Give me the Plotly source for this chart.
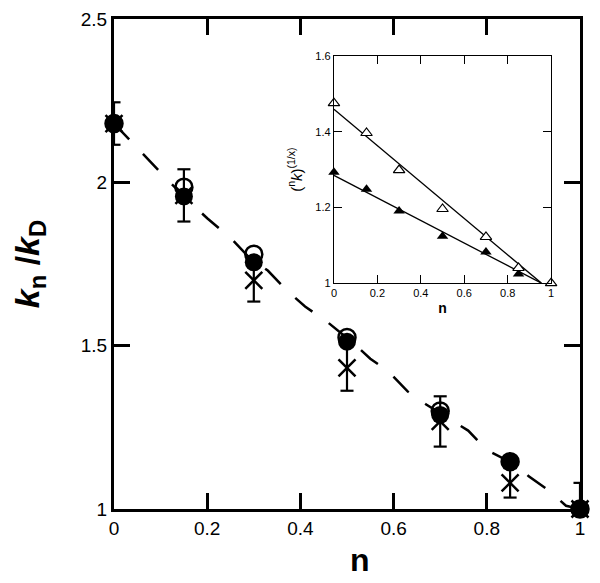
import plotly.graph_objects as go

# ---- main plot data ----
n_vals = [0, 0.15, 0.3, 0.5, 0.7, 0.85, 1.0]
open_circ = [2.18, 1.985, 1.78, 1.525, 1.30, 1.145, 1.0]
filled_circ = [2.18, 1.957, 1.755, 1.512, 1.288, 1.144, 1.0]
cross_vals = [2.18, 1.96, 1.70, 1.432, 1.268, 1.08, 1.0]
cross_err = [0.065, 0.08, 0.065, 0.07, 0.077, 0.045, 0.08]

curve_n = [0, 0.04, 0.08, 0.12, 0.17, 0.2, 0.25, 0.29, 0.33, 0.37, 0.41, 0.46,
           0.52, 0.55, 0.59, 0.63, 0.67, 0.76, 0.8, 0.87, 0.89, 0.93, 0.97, 1.0]
curve_y = [2.18, 2.12, 2.06, 2.0, 1.93, 1.89, 1.83, 1.77, 1.73, 1.67, 1.62, 1.57,
           1.50, 1.46, 1.42, 1.36, 1.32, 1.24, 1.18, 1.13, 1.10, 1.06, 1.01, 1.0]

# ---- inset data ----
inset_n = [0, 0.15, 0.3, 0.5, 0.7, 0.85, 1.0]
open_tri = [1.476, 1.397, 1.299, 1.196, 1.122, 1.04, 1.0]
filled_n = [0, 0.15, 0.3, 0.5, 0.7, 0.85]
filled_tri = [1.293, 1.248, 1.191, 1.124, 1.082, 1.024]
fit_n = [0, 0.955]
fit_open = [1.46, 1.0]
fit_filled = [1.285, 1.0]

FONT = "Liberation Sans, Arial, sans-serif"
CAP = 0.014  # half cap width in n units (style)

# error bars built as clipped line segments from the data arrays
eb_x, eb_y = [], []
for n, v, e in zip(n_vals, cross_vals, cross_err):
    eb_x += [n, n, None, n - CAP, n + CAP, None, n - CAP, n + CAP, None]
    eb_y += [v - e, v + e, None, v + e, v + e, None, v - e, v - e, None]

fig = go.Figure()

fig.add_trace(go.Scatter(x=curve_n, y=curve_y, mode="lines",
                         line=dict(color="black", width=2.5, dash="22px,20px"),
                         showlegend=False, hoverinfo="skip"))

fig.add_trace(go.Scatter(x=eb_x, y=eb_y, mode="lines",
                         line=dict(color="black", width=2.2),
                         showlegend=False, hoverinfo="skip"))

fig.add_trace(go.Scatter(x=n_vals, y=open_circ, mode="markers",
                         marker=dict(symbol="circle-open", size=17, color="black",
                                     line=dict(width=2.5, color="black")),
                         cliponaxis=False, showlegend=False))

fig.add_trace(go.Scatter(x=n_vals, y=filled_circ, mode="markers",
                         marker=dict(symbol="circle", size=18, color="black"),
                         cliponaxis=False, showlegend=False))

fig.add_trace(go.Scatter(x=n_vals, y=cross_vals, mode="markers",
                         marker=dict(symbol="x-thin-open", size=17, color="black",
                                     line=dict(width=2.5, color="black")),
                         cliponaxis=False, showlegend=False))

# inset
fig.add_trace(go.Scatter(x=fit_n, y=fit_open, mode="lines", xaxis="x2", yaxis="y2",
                         line=dict(color="black", width=1.3), showlegend=False))
fig.add_trace(go.Scatter(x=fit_n, y=fit_filled, mode="lines", xaxis="x2", yaxis="y2",
                         line=dict(color="black", width=1.3), showlegend=False))
fig.add_trace(go.Scatter(x=filled_n, y=filled_tri, mode="markers", xaxis="x2", yaxis="y2",
                         marker=dict(symbol="triangle-up", size=10, color="black"),
                         cliponaxis=False, showlegend=False))
fig.add_trace(go.Scatter(x=inset_n, y=open_tri, mode="markers", xaxis="x2", yaxis="y2",
                         marker=dict(symbol="triangle-up", size=10, color="white",
                                     line=dict(width=1.2, color="black")),
                         cliponaxis=False, showlegend=False))

main_axis = dict(showline=True, linewidth=3, linecolor="black", mirror="allticks",
                 ticks="inside", ticklen=16, tickwidth=3, tickcolor="black",
                 showgrid=False, zeroline=False,
                 tickfont=dict(family=FONT, size=19, color="black"))
inset_axis = dict(showline=True, linewidth=1.3, linecolor="black", mirror="allticks",
                  ticks="inside", ticklen=8, tickwidth=1.3, tickcolor="black",
                  showgrid=False, zeroline=False,
                  tickfont=dict(family=FONT, size=11, color="black"))

fig.update_layout(
    width=600, height=583,
    margin=dict(l=106, r=28, t=11, b=82, autoexpand=False),
    paper_bgcolor="white", plot_bgcolor="white",
    font=dict(family=FONT, color="black"),
    xaxis=dict(main_axis, range=[0, 1], dtick=0.2, domain=[0, 1], automargin=False),
    yaxis=dict(main_axis, range=[1, 2.5], dtick=0.5, domain=[0, 1], automargin=False,
               title=dict(text="<b><i>k</i><sub>n</sub> /<i>k</i><sub>D</sub></b>",
                          font=dict(family=FONT, size=34), standoff=36)),
    xaxis2=dict(inset_axis, range=[0, 1], dtick=0.2, domain=[0.472, 0.938], anchor="y2",
                automargin=False,
                title=dict(text="<b>n</b>", font=dict(family=FONT, size=14), standoff=4)),
    yaxis2=dict(inset_axis, range=[1, 1.6], dtick=0.2, domain=[0.461, 0.924], anchor="x2",
                automargin=False,
                title=dict(text="(<sup>n</sup><i>k</i>)<sup>(1/x)</sup>",
                           font=dict(family=FONT, size=15), standoff=9)),
    annotations=[dict(text="<b>n</b>", xref="paper", yref="paper", x=0.528, y=-0.104,
                      xanchor="center", yanchor="middle", showarrow=False,
                      font=dict(family=FONT, size=32, color="black"))],
)

fig.write_html("out.html")
